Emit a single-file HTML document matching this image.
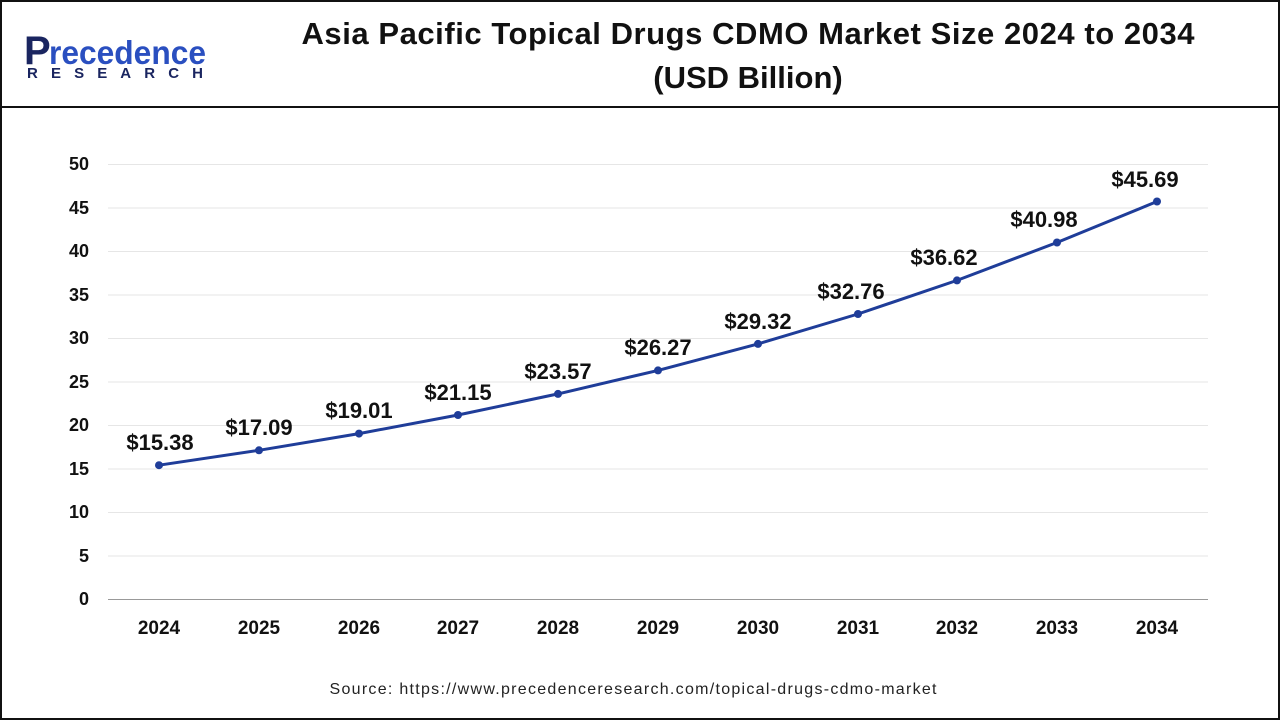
<!DOCTYPE html>
<html><head><style>
body{margin:0;width:1280px;height:720px;background:#fff;overflow:hidden;font-family:"Liberation Sans",Arial,sans-serif}
</style></head><body>
<svg width="1280" height="720" viewBox="0 0 1280 720" xmlns="http://www.w3.org/2000/svg" font-family="Liberation Sans, Arial, sans-serif">
<rect x="1" y="1" width="1278" height="718" fill="#fff" stroke="#111" stroke-width="2"/>
<line x1="0" y1="107" x2="1280" y2="107" stroke="#111" stroke-width="2"/>
<!-- logo -->
<text x="24" y="64" font-size="40" font-weight="bold" fill="#1a2560">P</text>
<text x="49" y="64" font-size="33" fill="#2a4fc0" font-weight="bold" textLength="157" lengthAdjust="spacingAndGlyphs">recedence</text>
<text x="27" y="78" font-size="15" font-weight="bold" fill="#1a2560" textLength="176">RESEARCH</text>
<text x="748" y="44" font-size="31" font-weight="bold" text-anchor="middle" fill="#111" textLength="893">Asia Pacific Topical Drugs CDMO Market Size 2024 to 2034</text>
<text x="748" y="88" font-size="31" font-weight="bold" text-anchor="middle" fill="#111">(USD Billion)</text>
<g stroke="#e6e6e6" stroke-width="1">
<line x1="108" x2="1208" y1="164.5" y2="164.5"/><line x1="108" x2="1208" y1="208" y2="208"/><line x1="108" x2="1208" y1="251.5" y2="251.5"/><line x1="108" x2="1208" y1="295" y2="295"/><line x1="108" x2="1208" y1="338.5" y2="338.5"/><line x1="108" x2="1208" y1="382" y2="382"/><line x1="108" x2="1208" y1="425.5" y2="425.5"/><line x1="108" x2="1208" y1="469" y2="469"/><line x1="108" x2="1208" y1="512.5" y2="512.5"/><line x1="108" x2="1208" y1="556" y2="556"/>
</g>
<line x1="108" x2="1208" y1="599.5" y2="599.5" stroke="#999"/>
<g font-size="18" font-weight="bold" fill="#111" text-anchor="end">
<text x="89" y="170">50</text><text x="89" y="214">45</text><text x="89" y="257">40</text><text x="89" y="301">35</text><text x="89" y="344">30</text><text x="89" y="388">25</text><text x="89" y="431">20</text><text x="89" y="475">15</text><text x="89" y="518">10</text><text x="89" y="562">5</text><text x="89" y="605">0</text>
</g>
<g font-size="19" font-weight="bold" fill="#111" text-anchor="middle">
<text x="159" y="634">2024</text><text x="259" y="634">2025</text><text x="359" y="634">2026</text><text x="458" y="634">2027</text><text x="558" y="634">2028</text><text x="658" y="634">2029</text><text x="758" y="634">2030</text><text x="858" y="634">2031</text><text x="957" y="634">2032</text><text x="1057" y="634">2033</text><text x="1157" y="634">2034</text>
</g>
<polyline fill="none" stroke="#1f3d99" stroke-width="3" points="159,465.2 259,450.3 359,433.6 458,415 558,393.9 658,370.4 758,343.9 858,314 957,280.4 1057,242.5 1157,201.5"/>
<g fill="#1f3d99">
<circle cx="159" cy="465.2" r="4"/><circle cx="259" cy="450.3" r="4"/><circle cx="359" cy="433.6" r="4"/><circle cx="458" cy="415" r="4"/><circle cx="558" cy="393.9" r="4"/><circle cx="658" cy="370.4" r="4"/><circle cx="758" cy="343.9" r="4"/><circle cx="858" cy="314" r="4"/><circle cx="957" cy="280.4" r="4"/><circle cx="1057" cy="242.5" r="4"/><circle cx="1157" cy="201.5" r="4"/>
</g>
<g font-size="22" font-weight="bold" fill="#111" text-anchor="middle">
<text x="160" y="450">$15.38</text><text x="259" y="435">$17.09</text><text x="359" y="418">$19.01</text><text x="458" y="400">$21.15</text><text x="558" y="379">$23.57</text><text x="658" y="355">$26.27</text><text x="758" y="329">$29.32</text><text x="851" y="299">$32.76</text><text x="944" y="265">$36.62</text><text x="1044" y="227">$40.98</text><text x="1145" y="187">$45.69</text>
</g>
<text x="633" y="694" font-size="16" fill="#222" text-anchor="middle" textLength="607">Source: https://www.precedenceresearch.com/topical-drugs-cdmo-market</text>
</svg>
</body></html>
